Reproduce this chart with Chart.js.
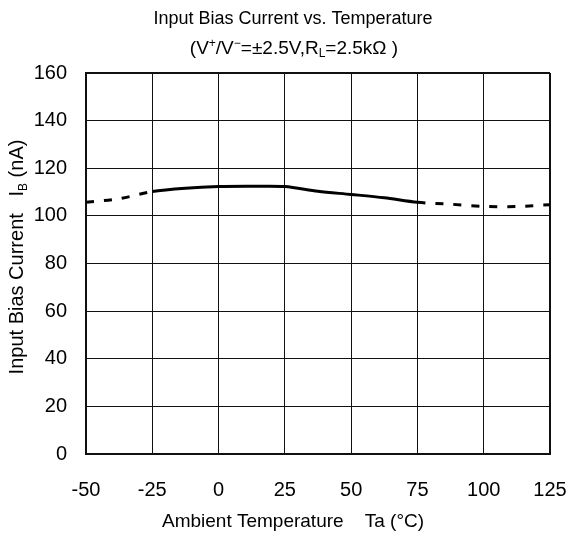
<!DOCTYPE html>
<html>
<head>
<meta charset="utf-8">
<script src="https://cdn.jsdelivr.net/npm/chart.js@4/dist/chart.umd.min.js"></script>
<style>
  html, body { margin: 0; padding: 0; background: #fff; }
  #wrap { width: 571px; height: 533px; }
</style>
</head>
<body>
<div id="wrap"><canvas id="chart" width="571" height="533"></canvas></div>
<script>
// data
const temps = [-50, -37.5, -25, -12.5, 0, 12.5, 25, 37.5, 50, 62.5, 75, 87.5, 100, 112.5, 125];
const biasCurrent = [105.7, 107.2, 110.2, 111.6, 112.3, 112.4, 112.3, 110.3, 109.0, 107.6, 105.7, 104.9, 104.0, 103.9, 104.7];
const xTicks = [-50, -25, 0, 25, 50, 75, 100, 125];
const yTicks = [0, 20, 40, 60, 80, 100, 120, 140, 160];
// solid line only inside the guaranteed range
const solidFrom = -25, solidTo = 75;

const FONT = "'Liberation Sans', Arial, sans-serif";

// draw a line of text made of normal / sup / sub pieces, centred on cx
function drawRich(ctx, parts, cx, cy, size) {
  const small = Math.round(size * 0.62);
  let total = 0;
  parts.forEach(p => {
    ctx.font = (p.sub || p.sup ? small : size) + 'px ' + FONT;
    p.w = ctx.measureText(p.t).width;
    total += p.w;
  });
  let x = cx - total / 2;
  ctx.textBaseline = 'alphabetic';
  ctx.textAlign = 'left';
  parts.forEach(p => {
    ctx.font = (p.sub || p.sup ? small : size) + 'px ' + FONT;
    let y = cy;
    if (p.sup) y -= size * 0.38;
    if (p.sub) y += size * 0.18;
    ctx.fillText(p.t, x, y);
    x += p.w;
  });
}

const titles = {
  id: 'titles',
  afterDraw(chart) {
    const ctx = chart.ctx;
    ctx.save();
    ctx.fillStyle = '#000';
    drawRich(ctx, [{t: 'Input Bias Current vs. Temperature'}], 293, 24, 18);
    drawRich(ctx, [
      {t: '(V'}, {t: '+', sup: true}, {t: '/V'}, {t: '\u2212', sup: true},
      {t: '=\u00b12.5V,R'}, {t: 'L', sub: true}, {t: '=2.5k\u03a9 )'}
    ], 294, 54, 19);
    drawRich(ctx, [{t: 'Ambient Temperature    Ta (\u00b0C)'}], 293, 527, 19);
    ctx.translate(23, 257);
    ctx.rotate(-Math.PI / 2);
    drawRich(ctx, [{t: 'Input Bias Current   I'}, {t: 'B', sub: true}, {t: ' (nA)'}], 0, 0, 20);
    ctx.restore();
  }
};

const edgeWidth = (ctx, min, max) => {
  const v = ctx.tick && ctx.tick.value;
  return (v === min || v === max) ? 2 : 1;
};

new Chart(document.getElementById('chart'), {
  type: 'line',
  data: {
    datasets: [{
      data: temps.map((t, i) => ({x: t, y: biasCurrent[i]})),
      borderColor: '#000',
      borderWidth: 3,
      pointRadius: 0,
      tension: 0.3,
      fill: false,
      segment: {
        borderDash: c => (c.p0.parsed.x < solidFrom || c.p0.parsed.x >= solidTo) ? [8, 10] : []
      }
    }]
  },
  options: {
    responsive: false,
    animation: false,
    layout: { padding: { top: 73, right: 21, left: 0, bottom: 0 } },
    plugins: { legend: { display: false }, tooltip: { enabled: false } },
    scales: {
      x: {
        type: 'linear',
        min: -50, max: 125,
        afterBuildTicks: s => { s.ticks = xTicks.map(v => ({value: v})); },
        afterFit: s => { s.height = 79; s.paddingLeft = 0; s.paddingRight = 0; },
        grid: { color: '#111', lineWidth: c => edgeWidth(c, -50, 125), drawTicks: false },
        border: { color: '#111', width: 2 },
        ticks: { color: '#000', padding: 24, maxRotation: 0, font: { size: 20, family: FONT } }
      },
      y: {
        min: 0, max: 160,
        afterBuildTicks: s => { s.ticks = yTicks.map(v => ({value: v})); },
        afterFit: s => { s.width = 86; s.paddingTop = 0; s.paddingBottom = 0; },
        grid: { color: '#111', lineWidth: c => edgeWidth(c, 0, 160), drawTicks: false },
        border: { color: '#111', width: 2 },
        ticks: { color: '#000', padding: 19, font: { size: 20, family: FONT } }
      }
    }
  },
  plugins: [titles]
});
</script>
</body>
</html>
